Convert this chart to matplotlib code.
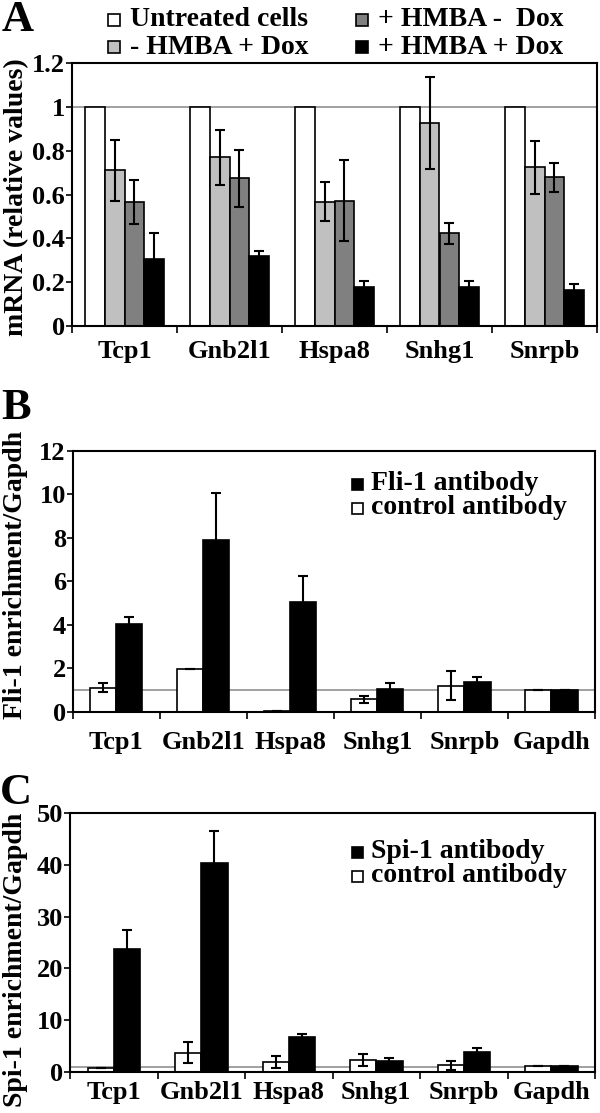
import matplotlib
matplotlib.use("Agg")
import matplotlib.pyplot as plt
import numpy as np
from matplotlib.patches import Rectangle

plt.rcParams['font.family'] = ['Liberation Serif', 'DejaVu Serif']
plt.rcParams['font.weight'] = 'bold'

# ---------------- Panel A data ----------------
genes_a = ["Tcp1", "Gnb2l1", "Hspa8", "Snhg1", "Snrpb"]
series_a = ["Untreated cells", "- HMBA + Dox", "+ HMBA -  Dox", "+ HMBA + Dox"]
untreated = [1.0, 1.0, 1.0, 1.0, 1.0]
minus_hmba_plus_dox = [0.71, 0.77, 0.567, 0.925, 0.724]
minus_hmba_plus_dox_err = [0.14, 0.125, 0.09, 0.21, 0.12]
plus_hmba_minus_dox = [0.567, 0.674, 0.572, 0.423, 0.678]
plus_hmba_minus_dox_err = [0.10, 0.13, 0.185, 0.047, 0.065]
plus_hmba_plus_dox = [0.306, 0.319, 0.176, 0.176, 0.164]
plus_hmba_plus_dox_err = [0.117, 0.025, 0.031, 0.031, 0.026]
yticks_a = [0, 0.2, 0.4, 0.6, 0.8, 1, 1.2]
yticklabels_a = ["0", "0.2", "0.4", "0.6", "0.8", "1", "1.2"]

# ---------------- Panel B data ----------------
genes_bc = ["Tcp1", "Gnb2l1", "Hspa8", "Snhg1", "Snrpb", "Gapdh"]
fli_control = [1.10, 1.96, 0.04, 0.57, 1.20, 1.0]
fli_control_err = [0.20, 0.0, 0.0, 0.16, 0.66, 0.0]
fli_antibody = [4.02, 7.90, 5.03, 1.06, 1.35, 1.0]
fli_antibody_err = [0.35, 2.14, 1.21, 0.24, 0.23, 0.0]
yticks_b = [0, 2, 4, 6, 8, 10, 12]

# ---------------- Panel C data ----------------
spi_control = [0.8, 3.7, 1.9, 2.3, 1.2, 1.1]
spi_control_err = [0.0, 2.1, 1.15, 1.15, 0.8, 0.0]
spi_antibody = [23.7, 40.3, 6.8, 2.1, 3.9, 1.1]
spi_antibody_err = [3.7, 6.3, 0.5, 0.5, 0.6, 0.0]
yticks_c = [0, 10, 20, 30, 40, 50]

W, H = 600, 1113
fig = plt.figure(figsize=(W / 100, H / 100), dpi=100)
FS = 19
FS_LAB = 20
FS_LET = 32

def fx(px):
    return px / W

def fy(py):
    return 1 - py / H

def make_axes(left, right, top, bottom):
    return fig.add_axes([fx(left), fy(bottom), fx(right) - fx(left), fy(top) - fy(bottom)])

def style_axes(ax, n, ylim, yticks, ylabels, xpad):
    ax.set_xlim(-0.5, n - 0.5)
    ax.set_ylim(*ylim)
    ax.set_yticks(yticks)
    ax.set_yticklabels(ylabels, fontsize=FS, fontweight='bold')
    ax.set_xticks(np.arange(n))
    ax.set_xticks(np.arange(n + 1) - 0.5, minor=True)
    ax.tick_params(axis='x', which='major', length=0, pad=xpad, labelsize=FS)
    ax.tick_params(axis='x', which='minor', length=5, width=1.2, direction='out')
    ax.tick_params(axis='y', which='major', length=4, width=1.2, direction='out', pad=1)
    for s in ax.spines.values():
        s.set_linewidth(1.5)
    for lab in ax.get_xticklabels() + ax.get_yticklabels():
        lab.set_fontweight('bold')

err_kw = dict(ecolor='black', elinewidth=1.5, capsize=3.5, capthick=1.5)

# ================= Panel A =================
axA = make_axes(72, 597, 63, 326)
x = np.arange(len(genes_a))
bw = 0.19
vals = [untreated, minus_hmba_plus_dox, plus_hmba_minus_dox, plus_hmba_plus_dox]
errs = [None, minus_hmba_plus_dox_err, plus_hmba_minus_dox_err, plus_hmba_plus_dox_err]
cols = ['white', '#c0c0c0', '#808080', 'black']
axA.axhline(1, color='#999999', lw=1.3, zorder=0)
for i, (v, e, c) in enumerate(zip(vals, errs, cols)):
    axA.bar(x + (i - 1.5) * bw, v, bw, color=c, edgecolor='black', linewidth=1.2,
            yerr=e, error_kw=err_kw, zorder=2)
axA.set_xticklabels(genes_a)
style_axes(axA, len(genes_a), (0, 1.2), yticks_a, yticklabels_a, 10)
axA.set_ylabel("mRNA (relative values)", fontsize=FS_LAB, fontweight='bold')
axA.yaxis.set_label_coords(fx(29), fy(197), transform=fig.transFigure)

# legend A (manual)
leg_items = [(108, 20, cols[0], series_a[0]), (356, 20, cols[2], series_a[2]),
             (108, 47, cols[1], series_a[1]), (356, 47, cols[3], series_a[3])]
for px, py, c, lab in leg_items:
    fig.patches.append(Rectangle((fx(px), fy(py + 6)), fx(12), 12 / H, facecolor=c,
                                 edgecolor='black', linewidth=1.2, transform=fig.transFigure))
    fig.text(fx(px + 22), fy(py), lab, fontsize=FS_LAB, fontweight='bold', va='center', ha='left')

fig.text(fx(2), fy(20), "A", fontsize=FS_LET, fontweight='bold', va='center', ha='left')

# ================= Panel B =================
xb = np.arange(len(genes_bc))
bw2 = 0.3
axB = make_axes(72.7, 595, 450.7, 711.7)
axB.axhline(1, color='#999999', lw=1.3, zorder=0)
axB.bar(xb - bw2 / 2, fli_control, bw2, color='white', edgecolor='black', linewidth=1.2,
        yerr=fli_control_err, error_kw=err_kw, zorder=2)
axB.bar(xb + bw2 / 2, fli_antibody, bw2, color='black', edgecolor='black', linewidth=1.2,
        yerr=fli_antibody_err, error_kw=err_kw, zorder=2)
axB.set_xticklabels(genes_bc)
style_axes(axB, len(genes_bc), (0, 12), yticks_b, [str(t) for t in yticks_b], 14)
axB.set_ylabel("Fli-1 enrichment/Gapdh", fontsize=FS_LAB, fontweight='bold')
axB.yaxis.set_label_coords(fx(28), fy(575), transform=fig.transFigure)
for py, c, lab in [(484, 'black', "Fli-1 antibody"), (508, 'white', "control antibody")]:
    fig.patches.append(Rectangle((fx(352), fy(py + 5.5)), fx(11), 11 / H, facecolor=c,
                                 edgecolor='black', linewidth=1.2, transform=fig.transFigure))
    fig.text(fx(371), fy(py), lab, fontsize=FS_LAB, fontweight='bold', va='center', ha='left')
fig.text(fx(1), fy(408), "B", fontsize=FS_LET, fontweight='bold', va='center', ha='left')

# ================= Panel C =================
axC = make_axes(70, 595, 813.3, 1071.7)
axC.axhline(1, color='#999999', lw=1.3, zorder=0)
axC.bar(xb - bw2 / 2, spi_control, bw2, color='white', edgecolor='black', linewidth=1.2,
        yerr=spi_control_err, error_kw=err_kw, zorder=2)
axC.bar(xb + bw2 / 2, spi_antibody, bw2, color='black', edgecolor='black', linewidth=1.2,
        yerr=spi_antibody_err, error_kw=err_kw, zorder=2)
axC.set_xticklabels(genes_bc)
style_axes(axC, len(genes_bc), (0, 50), yticks_c, [str(t) for t in yticks_c], 7)
axC.set_ylabel("Spi-1 enrichment/Gapdh", fontsize=FS_LAB, fontweight='bold')
axC.yaxis.set_label_coords(fx(28), fy(960), transform=fig.transFigure)
for py, c, lab in [(852, 'black', "Spi-1 antibody"), (876, 'white', "control antibody")]:
    fig.patches.append(Rectangle((fx(352), fy(py + 5.5)), fx(11), 11 / H, facecolor=c,
                                 edgecolor='black', linewidth=1.2, transform=fig.transFigure))
    fig.text(fx(371), fy(py), lab, fontsize=FS_LAB, fontweight='bold', va='center', ha='left')
fig.text(fx(0), fy(793), "C", fontsize=FS_LET, fontweight='bold', va='center', ha='left')

fig.savefig("out.png", dpi=100)
